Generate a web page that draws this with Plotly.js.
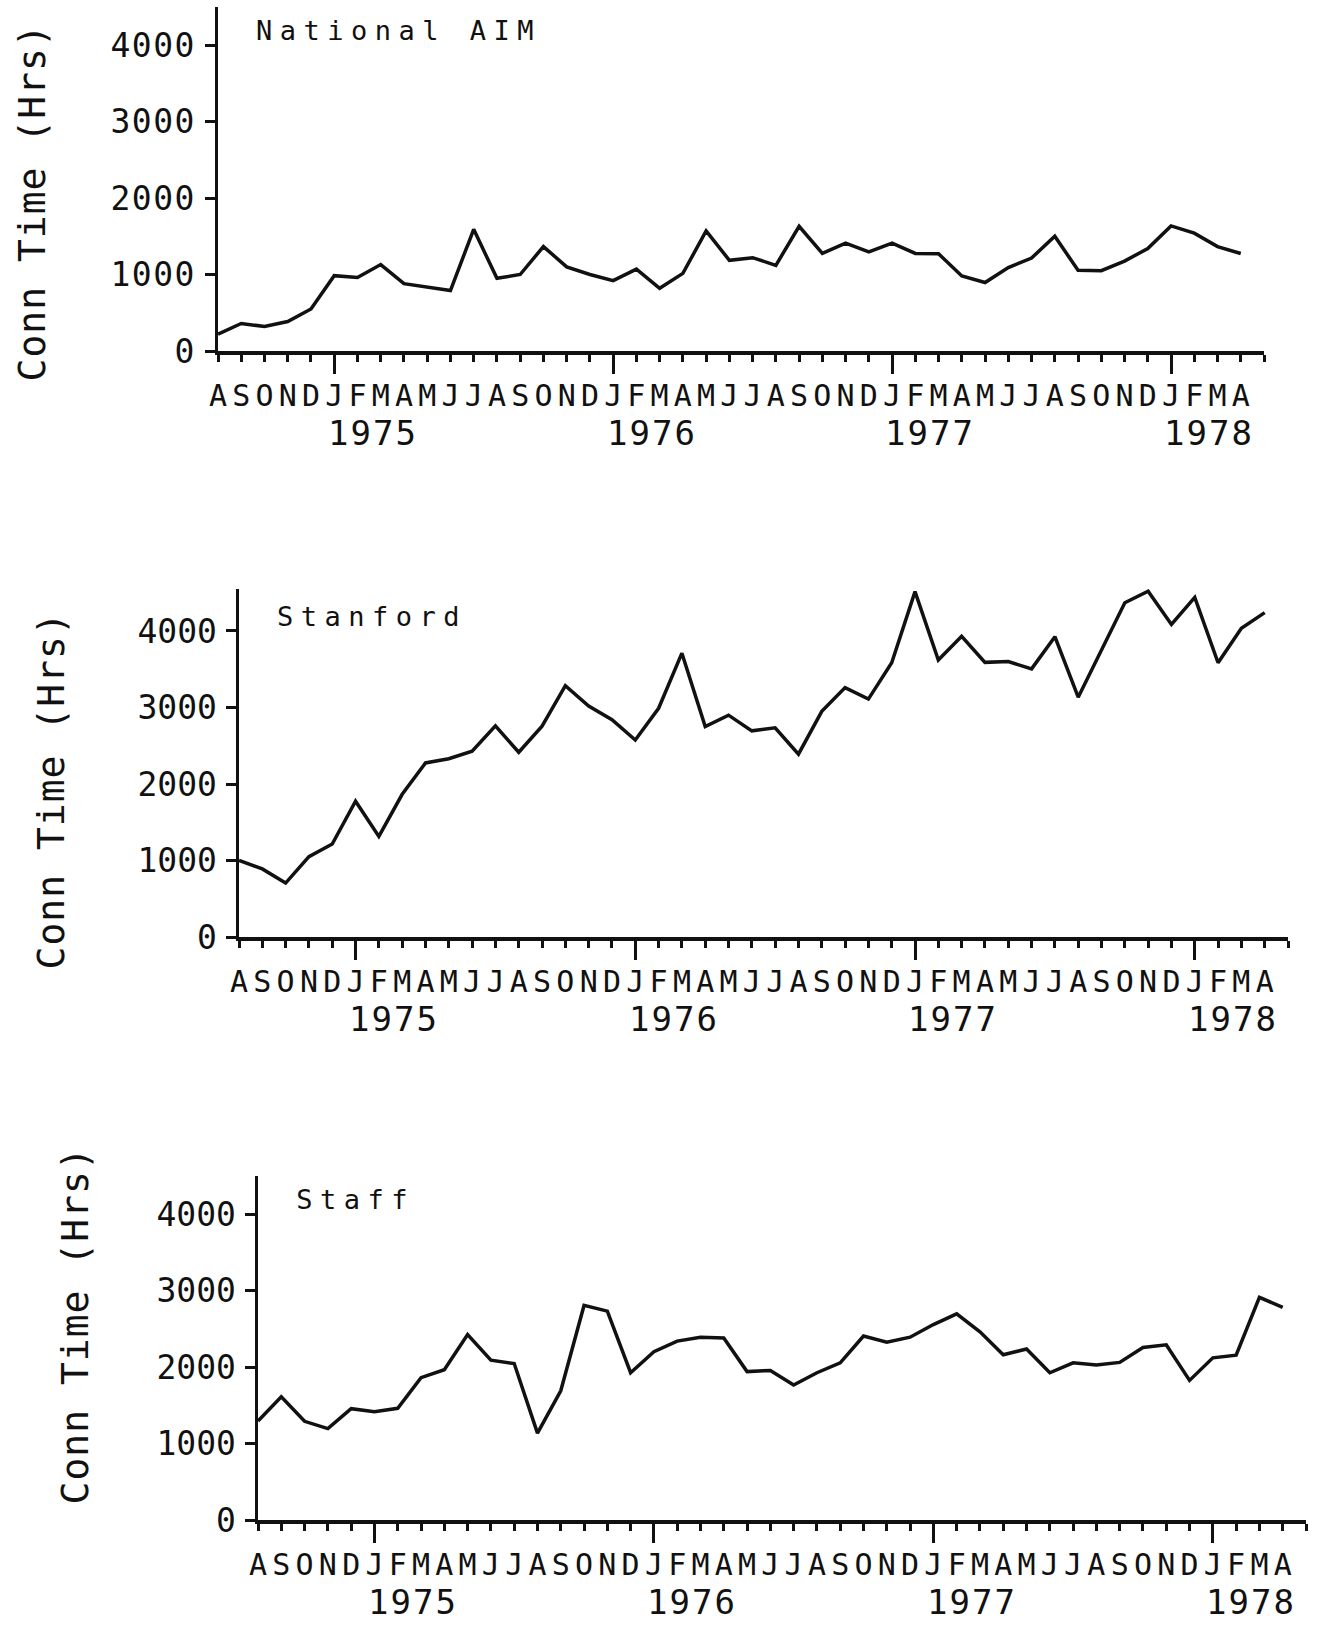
<!DOCTYPE html>
<html>
<head>
<meta charset="utf-8">
<script src="https://cdn.plot.ly/plotly-3.0.1.min.js"></script>
<style>
html,body{margin:0;padding:0;background:#fff;}
#chart{width:1322px;height:1634px;}
.ytick text{letter-spacing:1.5px;}
</style>
</head>
<body>
<div id="chart"></div>
<script>
// ---- data ----
const monthLabels = ['A','S','O','N','D',
  'J','F','M','A','M','J','J','A','S','O','N','D',
  'J','F','M','A','M','J','J','A','S','O','N','D',
  'J','F','M','A','M','J','J','A','S','O','N','D',
  'J','F','M','A'];
const yearLabels = ['1975','1976','1977','1978'];
const yTickValues = [0, 1000, 2000, 3000, 4000];
const panelTitles = ['National AIM', 'Stanford', 'Staff'];
const yAxisTitle = 'Conn Time (Hrs)';

const nationalAim = [220, 360, 320, 385, 550, 985, 960, 1130, 880, 830, 790, 1590, 950, 1000, 1365, 1100, 1000,
  920, 1070, 820, 1015, 1570, 1185, 1220, 1120, 1630, 1275, 1410, 1295,
  1410, 1275, 1270, 980, 895, 1090, 1215, 1500, 1055, 1050, 1175, 1340,
  1635, 1540, 1365, 1275];
const stanford = [1000, 890, 705, 1050, 1215, 1775, 1315, 1865, 2275, 2330, 2430, 2760, 2415, 2755, 3285, 3020, 2840,
  2575, 2990, 3710, 2750, 2900, 2695, 2735, 2390, 2950, 3260, 3110, 3585,
  4515, 3620, 3930, 3590, 3600, 3505, 3925, 3135, 3760, 4370, 4520, 4085,
  4440, 3585, 4035, 4240];
const staff = [1295, 1610, 1290, 1195, 1455, 1415, 1460, 1860, 1965, 2425, 2090, 2045, 1135, 1690, 2805, 2730, 1925,
  2200, 2338, 2390, 2380, 1940, 1955, 1765, 1925, 2055, 2405, 2325, 2390,
  2555, 2695, 2460, 2160, 2235, 1925, 2055, 2025, 2060, 2255, 2290, 1825,
  2120, 2155, 2910, 2780];

// ---- layout helpers ----
const W = 1322, H = 1634;
const series = [nationalAim, stanford, staff];
const monthIdx = monthLabels.map((_, i) => i);
const janIdx = monthIdx.filter(i => i > 0 && monthLabels[i - 1] === 'D');
const axisEnd = monthLabels.length;
const pxPerUnit = 0.0765;
const font = '"DejaVu Sans Mono", monospace';
const ink = '#111';

const frames = [
  {x0: 218, x1: 1264, base: 351, yMax: 4500, titleX: 398, titleY: 30, ytX: 32, ytY: 203},
  {x0: 239, x1: 1288, base: 937, yMax: 4550, titleX: 372, titleY: 616, ytX: 51, ytY: 791},
  {x0: 258, x1: 1306, base: 1520, yMax: 4500, titleX: 355, titleY: 1199, ytX: 75, ytY: 1326}
];

const traces = [];
const layout = {
  width: W, height: H,
  margin: {l: 0, r: 0, t: 0, b: 0},
  paper_bgcolor: '#fff', plot_bgcolor: 'rgba(0,0,0,0)',
  showlegend: false,
  annotations: []
};
const titleAnn = [], yearAnn = [], yTitleAnn = [];

frames.forEach((f, k) => {
  const n = k + 1;
  const xId = n === 1 ? 'x' : 'x' + n;
  const yId = n === 1 ? 'y' : 'y' + n;
  const xJanId = 'x' + (n + 3);
  const xKey = n === 1 ? 'xaxis' : 'xaxis' + n;
  const yKey = n === 1 ? 'yaxis' : 'yaxis' + n;
  const xJanKey = 'xaxis' + (n + 3);

  traces.push({
    x: monthIdx, y: series[k], xaxis: xId, yaxis: yId,
    type: 'scatter', mode: 'lines',
    line: {color: ink, width: 3.5}, hoverinfo: 'skip'
  });
  traces.push({
    x: monthIdx, y: series[k], xaxis: xJanId, yaxis: yId,
    type: 'scatter', mode: 'lines',
    line: {color: 'rgba(0,0,0,0)', width: 0}, hoverinfo: 'skip'
  });

  layout[xKey] = {
    domain: [f.x0 / W, f.x1 / W], anchor: yId,
    range: [0, axisEnd], tickmode: 'array',
    tickvals: monthIdx.concat([axisEnd]), ticktext: monthLabels.concat(['']),
    ticks: 'outside', ticklen: 7, tickwidth: 3, tickcolor: ink,
    showline: true, linewidth: 3.5, linecolor: ink,
    showgrid: false, zeroline: false, tickangle: 0,
    tickfont: {family: font, size: 30, color: ink},
    ticklabelstandoff: 8, fixedrange: true
  };
  layout[xJanKey] = {
    overlaying: xId, anchor: yId, side: 'bottom',
    range: [0, axisEnd], tickmode: 'array', tickvals: janIdx,
    ticks: 'outside', ticklen: 22, tickwidth: 3, tickcolor: ink,
    showticklabels: false, showline: false, showgrid: false, zeroline: false,
    fixedrange: true
  };
  layout[yKey] = {
    domain: [1 - f.base / H, 1 - (f.base - f.yMax * pxPerUnit) / H], anchor: xId,
    range: [0, f.yMax], tickmode: 'array',
    tickvals: yTickValues, ticktext: yTickValues.map(String),
    ticks: 'outside', ticklen: 10, tickwidth: 3, tickcolor: ink,
    showline: true, linewidth: 3.5, linecolor: ink,
    showgrid: false, zeroline: false,
    tickfont: {family: font, size: 33, color: ink},
    ticklabelstandoff: 2, fixedrange: true
  };

  titleAnn.push(layout.annotations.length);
  layout.annotations.push({
    xref: 'paper', yref: 'paper', x: f.titleX / W, y: 1 - f.titleY / H,
    xanchor: 'center', yanchor: 'middle', showarrow: false,
    text: panelTitles[k], font: {family: font, size: 27, color: ink}
  });
  yTitleAnn.push(layout.annotations.length);
  layout.annotations.push({
    xref: 'paper', yref: 'paper', x: f.ytX / W, y: 1 - f.ytY / H,
    xanchor: 'center', yanchor: 'middle', showarrow: false, textangle: -90,
    text: yAxisTitle, font: {family: font, size: 38, color: ink}
  });
  janIdx.forEach((j, m) => {
    yearAnn.push(layout.annotations.length);
    layout.annotations.push({
      xref: xId, yref: 'paper', x: j + 1.65, y: 1 - (f.base + 82) / H,
      xanchor: 'center', yanchor: 'middle', showarrow: false,
      text: yearLabels[m], font: {family: font, size: 34, color: ink}
    });
  });
});

const css = titleAnn.map(i => `g.annotation[data-index="${i}"] text{letter-spacing:7.5px;}`).join('\n') +
  yearAnn.map(i => `g.annotation[data-index="${i}"] text{letter-spacing:2px;}`).join('\n') +
  yTitleAnn.map(i => `g.annotation[data-index="${i}"] text{letter-spacing:1px;}`).join('\n');
const st = document.createElement('style');
st.textContent = css;
document.head.appendChild(st);

Plotly.newPlot('chart', traces, layout, {staticPlot: true, displayModeBar: false});
</script>
</body>
</html>
